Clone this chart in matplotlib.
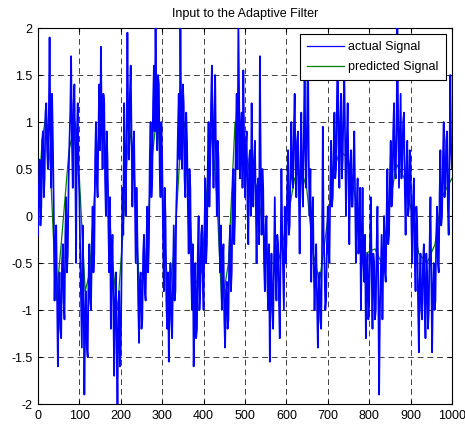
"""Input to the Adaptive Filter - actual vs predicted signal (MATLAB-style look)."""

import matplotlib

matplotlib.use("Agg")
import matplotlib.pyplot as plt

plt.rcParams["font.family"] = ["Liberation Sans", "DejaVu Sans"]

# actual (noisy) signal, read every 2 samples off the picture (10 per row)
ACTUAL_STEP = 2
ACTUAL = [
    -0.2, 0.3, 0.6, -0.1, 0.1, 0.8, 0.9, 0.2, 0.4, 1.1,
    1.2, 0.7, 0.5, 1.0, 1.9, 0.9, 0.3, 1.3, 0.8, 0.1,
    -0.9, -0.3, -0.1, -0.8, -1.6, -0.9, -0.6, -1.2, -1.3, -0.5,
    -0.3, -0.9, -1.1, -0.2, 0.2, -0.6, -0.4, 0.4, 0.8, 1.1,
    1.7, 0.8, 0.3, 1.2, 1.4, 0.6, -0.5, 0.9, 1.2, 0.5,
    0.2, -0.4, -0.9, -1.4, -0.1, -0.7, -1.9, -1.1, -0.8, -1.4,
    -1.5, -0.7, -0.3, -0.9, -1.0, -0.4, 0.1, -0.6, -0.4, 0.6,
    1.0, 0.4, 0.2, 0.9, 1.4, 0.7, 1.8, 1.0, 0.5, 1.3,
    1.2, 0.4, 0.0, 0.9, 0.6, -0.1, -0.6, 0.2, -1.2, -0.5,
    -0.2, -1.0, -1.7, -0.9, -0.6, -1.4, -2.0, -1.1, -0.8, -1.6,
    -1.4, -0.5, 0.3, -0.2, 1.2, 0.5, 0.0, 0.9, 1.95, 1.0,
    0.6, 1.3, 1.6, 0.8, 0.1, 0.7, 0.9, 0.2, -0.5, 0.3,
    -0.2, -0.9, -1.35, -0.7, -0.6, -1.2, -1.1, -0.4, -0.2, -0.8,
    -0.9, -0.3, 0.1, -0.6, -0.3, 0.6, 1.0, 0.2, 0.4, 1.2,
    1.6, 0.9, 2.05, 1.2, 0.7, 1.5, 1.4, 0.5, 0.2, 1.0,
    0.6, -0.2, -0.8, 0.3, 0.0, -0.9, -1.2, -0.6, -1.55, -0.9,
    -0.5, -1.1, -1.3, -0.7, -0.1, -0.9, -0.8, 0.1, 0.4, 0.9,
    1.3, 0.6, 2.05, 1.0, 0.5, 1.4, 1.2, 0.4, 0.2, 1.1,
    0.8, 0.1, -0.4, 0.5, 0.3, -0.6, -1.0, -0.3, -1.6, -1.0,
    -0.5, -1.3, -1.2, -0.4, 0.0, -1.0, -0.8, -0.2, -0.1, -0.7,
    -1.0, -0.2, 0.4, -0.5, -0.3, 0.5, 1.0, 0.1, 0.5, 1.2,
    1.6, 0.8, 0.3, 1.1, 1.5, 0.6, 0.0, 0.8, 0.6, -0.2,
    -0.6, -0.1, -1.0, -0.5, -0.3, -1.1, -1.4, -0.8, -0.7, -1.2,
    -1.1, -0.4, -0.1, -0.8, -0.6, 0.2, 0.5, -0.3, 0.0, 0.9,
    1.3, 0.5, 2.05, 1.2, 0.4, 0.9, 1.1, 0.3, 1.55, 0.8,
    0.2, 0.7, 0.9, 0.1, -0.3, 0.6, 0.7, 0.0, 1.2, 0.5,
    0.1, 0.6, 0.8, 0.2, -0.5, 0.3, 0.4, -0.3, 1.7, 0.6,
    -0.2, 0.5, 0.3, -0.5, -0.8, -0.1, 0.0, -0.7, -1.0, -0.3,
    -1.55, -0.8, -0.4, -1.0, -1.2, -0.5, 0.2, -0.6, -0.9, -0.2,
    -0.3, -0.9, -1.3, -0.4, 0.5, -0.2, -0.6, -1.0, 0.1, -0.5,
    -0.3, 0.3, 0.7, -0.2, -0.1, 0.5, 1.0, 0.4, 0.3, 0.9,
    1.3, 0.6, 0.2, 0.8, 0.9, 0.3, -0.4, 0.5, 1.1, 0.4,
    0.1, 0.8, 1.6, 0.7, 0.3, 1.0, 1.9, 0.6, 0.0, 0.5,
    -0.7, -0.1, 0.2, -0.5, -1.0, -0.6, -0.3, -0.9, -1.4, -0.8,
    -0.6, -1.1, -1.2, -0.4, 0.95, -0.2, -0.5, -1.0, -0.9, -0.3,
    0.1, -0.4, -0.5, 0.3, 0.8, 0.1, 0.2, 0.7, 1.1, 0.4,
    0.5, 1.2, 1.9, 0.8, 0.3, 1.0, 1.3, 0.4, 0.6, 1.2,
    1.5, 0.7, 0.0, 0.8, 1.2, 0.4, -0.3, 0.5, 0.7, 0.1,
    0.1, 0.6, 0.9, 0.2, -0.5, 0.1, 0.4, -0.4, -0.2, 0.3,
    -1.0, -0.4, 0.3, -0.5, -0.7, -0.2, -1.3, -0.6, -0.4, -1.1,
    -0.9, -0.3, 0.2, -0.6, -1.2, -0.4, -0.5, -1.1, -1.0, -0.3,
    0.1, -0.8, -1.9, -1.0, -0.6, -0.2, -1.1, -0.5, 0.0, -0.6,
    -0.7, 0.0, 0.5, -0.3, -0.2, 0.4, 0.8, 0.1, 0.2, 0.9,
    1.2, 0.5, 0.4, 0.9, 2.05, 1.0, 0.3, 0.8, 1.3, 0.4,
    0.6, 1.0, 1.1, 0.3, -0.2, 0.5, 0.8, 0.0, 0.1, 0.7,
    0.6, -0.1, -0.5, 0.2, 0.4, -0.4, -0.8, 0.1, -0.1, -0.9,
    -1.45, -0.7, -0.4, -1.0, -1.1, -0.5, -0.3, -0.9, -1.3, -0.4,
    -0.6, -1.2, -1.0, -0.3, 0.2, -0.6, -1.45, -0.8, -0.5, -1.0,
    -0.9, -0.2, 0.1, -0.5, -0.6, 0.2, 0.7, -0.1, 0.0, 0.6,
    1.0, 0.2, 0.3, 0.8, 0.9, 0.1, -0.2, 0.6, 1.5, 0.7,
    0.5,
]
ACTUAL_X = [i * ACTUAL_STEP for i in range(len(ACTUAL))]

# predicted (smooth) signal, read at these sample indices
PRED_X = [0, 10, 20, 30, 44, 57, 75, 90, 100, 114, 125, 140, 152, 165, 180,
          192, 205, 220, 232, 245, 260, 275, 288, 300, 315, 330, 345, 355, 365,
          377, 395, 410, 420, 432, 444, 460, 476, 490, 510, 530, 545, 560, 580,
          600, 620, 635, 649, 665, 680, 695, 715, 730, 750, 770, 790, 814, 830,
          845, 866, 885, 900, 920, 940, 959, 975, 1000]
PRED = [0.1, 0.8, 1.1, 0.5, -0.9, -0.25, 0.7, 1.0, 0.4, -0.8, -0.6, 0.5, 1.1,
        0.6, -0.5, -1.0, -0.2, 1.0, 0.5, -0.8, -0.5, 0.6, 1.1, 0.3, -0.95,
        -0.3, 0.8, 1.0, 0.2, -0.75, -0.6, 0.4, 0.9, 0.2, -0.95, -0.5, 1.0, 0.9,
        0.5, 0.3, -0.2, -0.5, -0.5, -0.1, 0.4, 0.5, 0.3, -0.4, -0.7, -0.2, 0.5,
        0.7, 0.6, 0.1, -0.4, -0.35, -0.5, 0.0, 0.55, 0.4, 0.1, -0.4, -0.5, -0.3,
        0.2, 0.4]

X_TICKS = list(range(0, 1001, 100))
Y_TICKS = [-2, -1.5, -1, -0.5, 0, 0.5, 1, 1.5, 2]
Y_LABELS = ["-2", "-1.5", "-1", "-0.5", "0", "0.5", "1", "1.5", "2"]

fig = plt.figure(figsize=(4.65, 4.25), dpi=100)
ax = fig.add_axes([0.0817, 0.0494, 0.8903, 0.8847])

# predicted line sits underneath: it is mostly hidden by the noisy trace
ax.plot(ACTUAL_X, ACTUAL, color=(0, 0, 1), lw=1.25, zorder=3, label="actual Signal")
ax.plot(PRED_X, PRED, color=(0, 0.5, 0), lw=0.9, zorder=2, label="predicted Signal")

ax.set_xlim(0, 1000)
ax.set_ylim(-2, 2)
ax.set_xticks(X_TICKS)
ax.set_yticks(Y_TICKS)
ax.set_yticklabels(Y_LABELS)
ax.tick_params(direction="in", length=3, width=0.8, labelsize=9, pad=4,
               top=True, right=True)
ax.grid(True, color="black", linestyle=(0, (6, 4)), linewidth=0.7, alpha=0.75)
for spine in ax.spines.values():
    spine.set_linewidth(0.8)

ax.set_title("Input to the Adaptive Filter", fontsize=9, pad=8)

leg = ax.legend(loc="upper right", fontsize=9, handlelength=3, handletextpad=0.35,
                labelspacing=0.65, borderpad=0.55, borderaxespad=0.5,
                fancybox=False, framealpha=1)
leg.set_zorder(5)
leg.get_frame().set_edgecolor("black")
leg.get_frame().set_linewidth(0.8)
for line in leg.get_lines():
    line.set_linewidth(0.9)

fig.savefig("out.png", dpi=100)
